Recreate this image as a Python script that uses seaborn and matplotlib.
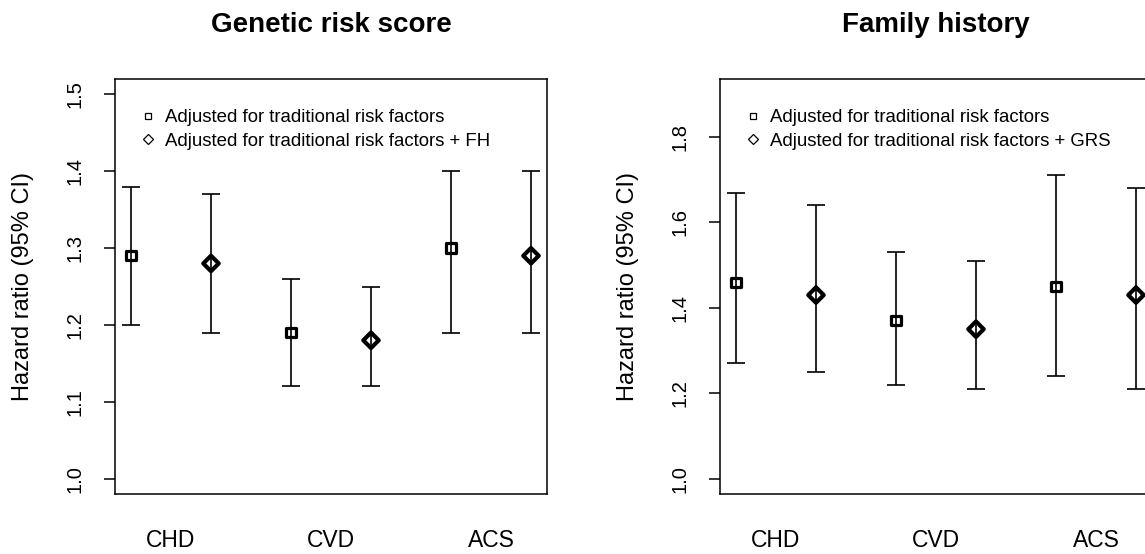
import numpy as np
import pandas as pd
import matplotlib
matplotlib.use("Agg")
import matplotlib.pyplot as plt
from matplotlib.lines import Line2D
import seaborn as sns

# ---------------- data ----------------
outcomes = ["CHD", "CVD", "ACS"]

grs_title = "Genetic risk score"
grs_models = ["Adjusted for traditional risk factors",
              "Adjusted for traditional risk factors + FH"]
grs_hr_base = [1.29, 1.19, 1.30]
grs_lo_base = [1.20, 1.12, 1.19]
grs_hi_base = [1.38, 1.26, 1.40]
grs_hr_adj = [1.28, 1.18, 1.29]
grs_lo_adj = [1.19, 1.12, 1.19]
grs_hi_adj = [1.37, 1.25, 1.40]
grs_yticks = [1.0, 1.1, 1.2, 1.3, 1.4, 1.5]
grs_ylim = (1.0, 1.5)

fh_title = "Family history"
fh_models = ["Adjusted for traditional risk factors",
             "Adjusted for traditional risk factors + GRS"]
fh_hr_base = [1.46, 1.37, 1.45]
fh_lo_base = [1.27, 1.22, 1.24]
fh_hi_base = [1.67, 1.53, 1.71]
fh_hr_adj = [1.43, 1.35, 1.43]
fh_lo_adj = [1.25, 1.21, 1.21]
fh_hi_adj = [1.64, 1.51, 1.68]
fh_yticks = [1.0, 1.2, 1.4, 1.6, 1.8]
fh_ylim = (1.0, 1.9)

ylabel = "Hazard ratio (95% CI)"

# ---------------- style ----------------
sns.set_style("white")
plt.rcParams["font.family"] = ["Liberation Sans", "DejaVu Sans"]
plt.rcParams["text.color"] = "black"
plt.rcParams["axes.labelcolor"] = "black"
plt.rcParams["xtick.color"] = "black"
plt.rcParams["ytick.color"] = "black"

W, H = 1145, 554
fig = plt.figure(figsize=(W / 100, H / 100), dpi=100)

def build_frame(hr_b, lo_b, hi_b, hr_a, lo_a, hi_a, models):
    rows = []
    for i, oc in enumerate(outcomes):
        rows.append(dict(outcome=oc, model=models[0], pos=2 * i + 1,
                         hr=hr_b[i], lo=lo_b[i], hi=hi_b[i]))
        rows.append(dict(outcome=oc, model=models[1], pos=2 * i + 2,
                         hr=hr_a[i], lo=lo_a[i], hi=hi_a[i]))
    return pd.DataFrame(rows)

def draw_panel(ax, df, models, title, yticks, ylim):
    # error bars
    ax.errorbar(df["pos"], df["hr"],
                yerr=[df["hr"] - df["lo"], df["hi"] - df["hr"]],
                fmt="none", ecolor="black", elinewidth=1.2,
                capsize=6.5, capthick=1.2, zorder=2)
    # point estimates
    sns.scatterplot(data=df[df["model"] == models[0]], x="pos", y="hr",
                    marker="s", s=46, facecolor="none", edgecolor="black",
                    linewidth=2.3, legend=False, ax=ax, zorder=3)
    sns.scatterplot(data=df[df["model"] == models[1]], x="pos", y="hr",
                    marker="D", s=62, facecolor="none", edgecolor="black",
                    linewidth=3.0, legend=False, ax=ax, zorder=3)
    # axes limits (R-style 4% extension)
    x0, x1 = 1, 6
    ax.set_xlim(x0 - 0.04 * (x1 - x0), x1 + 0.04 * (x1 - x0))
    y0, y1 = ylim
    ax.set_ylim(y0 - 0.04 * (y1 - y0), y1 + 0.04 * (y1 - y0))

    ax.set_yticks(yticks)
    ax.set_yticklabels([f"{t:.1f}" for t in yticks], rotation=90,
                       va="center", ha="center", fontsize=14.5)
    ax.tick_params(axis="y", which="both", left=True, length=8,
                   width=1.1, pad=20.5, color="black", direction="out")

    ax.set_xticks([2 * i + 1.5 for i in range(len(outcomes))])
    ax.set_xticklabels(outcomes, fontsize=16.5)
    ax.tick_params(axis="x", length=0, pad=25.5)

    ax.set_xlabel("")
    ax.set_ylabel(ylabel, fontsize=17, va="center")
    ax.yaxis.set_label_coords(-92 / 432, 0.5)

    ax.set_title(title, fontsize=20, fontweight="bold", pad=34)

    for sp in ax.spines.values():
        sp.set_visible(True)
        sp.set_color("black")
        sp.set_linewidth(1.1)

    handles = [
        Line2D([], [], ls="none", marker="s", ms=5, mfc="none",
               mec="black", mew=0.9),
        Line2D([], [], ls="none", marker="D", ms=4.8, mfc="none",
               mec="black", mew=0.9),
    ]
    ax.legend(handles, models, loc="upper left",
              bbox_to_anchor=(24 / 432, 1 - 30 / 415), frameon=False,
              fontsize=13.4, handlelength=1.0, handletextpad=0.4,
              labelspacing=0.36, borderpad=0, borderaxespad=0)

ax_w = 432 / W
ax_h = 415 / H
ax_b = 1 - 494 / H
ax1 = fig.add_axes([115 / W, ax_b, ax_w, ax_h])
ax2 = fig.add_axes([720 / W, ax_b, ax_w, ax_h])

df_grs = build_frame(grs_hr_base, grs_lo_base, grs_hi_base,
                     grs_hr_adj, grs_lo_adj, grs_hi_adj, grs_models)
df_fh = build_frame(fh_hr_base, fh_lo_base, fh_hi_base,
                    fh_hr_adj, fh_lo_adj, fh_hi_adj, fh_models)

draw_panel(ax1, df_grs, grs_models, grs_title, grs_yticks, grs_ylim)
draw_panel(ax2, df_fh, fh_models, fh_title, fh_yticks, fh_ylim)

fig.savefig("out.png", dpi=100, facecolor="white")
